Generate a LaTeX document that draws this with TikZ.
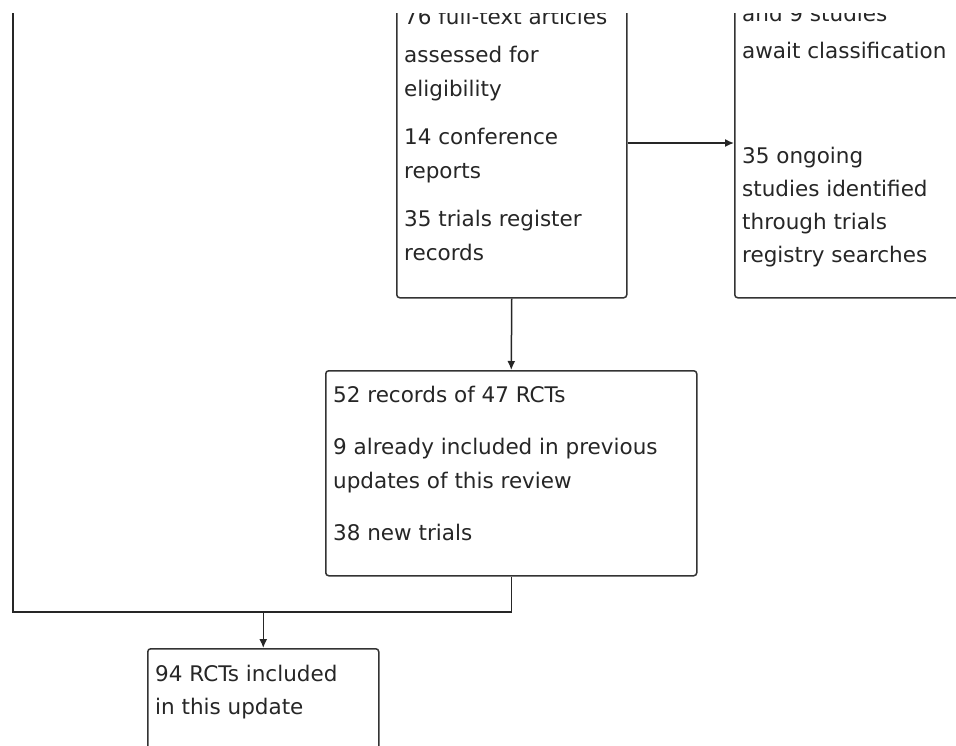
\documentclass[tikz,border=0pt]{standalone}
\usepackage{fontspec}
\setmainfont{DejaVu Sans}
\usetikzlibrary{arrows.meta,positioning}
\tikzset{flowbox/.style={draw=black!80,line width=1.5pt,rounded corners=3pt,
                         fill=white,anchor=north west,inner sep=0pt},
        flowtext/.style={anchor=base west,inner sep=0pt,align=left,
                         text=black!85,font=\fontsize{21.5}{34}\selectfont},
        link/.style={draw=black!85,line width=1.5pt},
        arr/.style={link,-{Latex[length=9pt,width=8pt]}},
        }
\begin{document}
\begin{tikzpicture}[x=1pt,y=1pt]
    \useasboundingbox (0,0) rectangle (956,-745);
    \fill[white] (0,0) rectangle (956,-745);
    \begin{scope}
    \clip (0,-13) rectangle (956,-745);

    \node[flowbox,minimum width=230pt,minimum height=357pt] (fulltext) at (396,60) {};
    \node[flowtext] (fulltexttxt) at (404,-260) {76 full-text articles\\[4pt]assessed for\\eligibility\\[14pt]14 conference\\reports\\[14pt]35 trials register\\records};

    \node[flowbox,minimum width=300pt,minimum height=357pt] (ongoing) at (734,60) {};
    \node[flowtext,font=\fontsize{21.5}{33}\selectfont] (ongoingtxt) at (742,-262) {and 9 studies\\[4pt]await classification\\[72pt]35 ongoing\\studies identified\\through trials\\registry searches};

    \node[flowbox,minimum width=371pt,minimum height=205pt] (records) at (325,-370) {};
    \node[flowtext] (recordstxt) at (333,-540) {52 records of 47 RCTs\\[18pt]9 already included in previous\\updates of this review\\[18pt]38 new trials};

    \node[flowbox,minimum width=231pt,minimum height=200pt] (included) at (147,-648) {};
    \node[flowtext,font=\fontsize{21.5}{33}\selectfont] (includedtxt) at (155,-714) {94 RCTs included\\in this update};

    \coordinate (offtop) at (13,10);
    \coordinate (corner) at (13,-612);

    \draw[arr] (fulltext.east |- 0,-143) -- (ongoing.west |- 0,-143);
    \draw[arr] (fulltext.south) -- (records.north);
    \draw[link] (records.south) |- (corner) -- (offtop);
    \draw[arr] (included.north |- corner) -- (included.north);
    \end{scope}
\end{tikzpicture}
\end{document}
